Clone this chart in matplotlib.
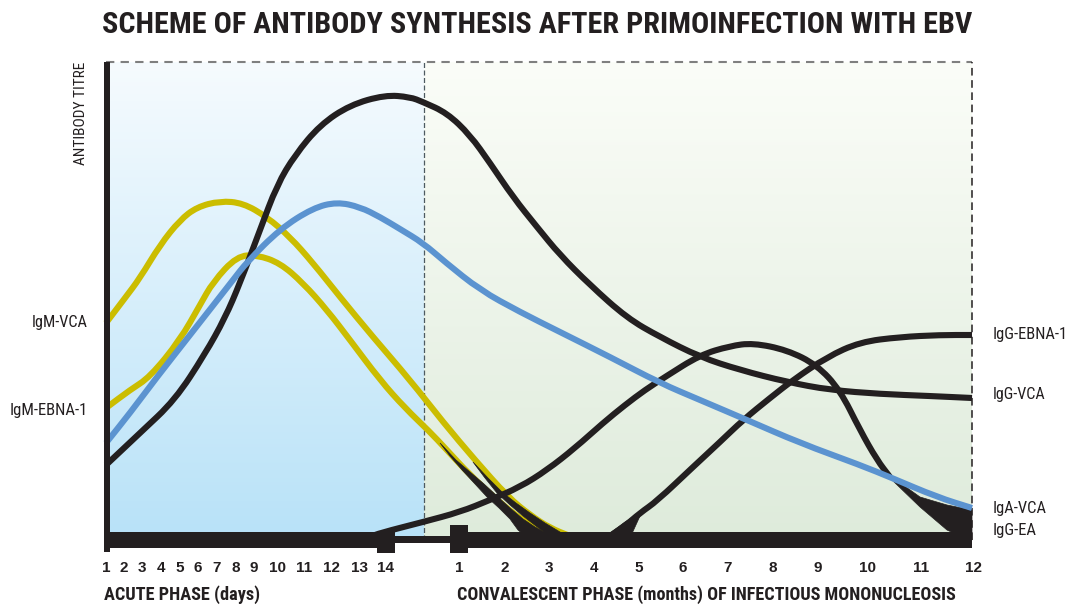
import numpy as np
import matplotlib
matplotlib.use('Agg')
import matplotlib.pyplot as plt
from matplotlib.colors import LinearSegmentedColormap
from matplotlib.path import Path
from matplotlib.patches import PathPatch

# Schematic time axis: day 1 .. day 14 (acute), month 1 .. month 12 (convalescent)
day_labels = [str(d) for d in range(1, 15)]
month_labels = [str(m) for m in range(1, 13)]
day_pos = [106, 124, 142, 161, 180, 198, 217, 236, 254, 278, 304, 331, 359, 385]
month_pos = [459, 505, 549, 594, 639, 683, 728, 773, 818, 867, 921, 974]

# Antibody titres (arbitrary units)
igg_vca_x = [106, 140, 175, 205, 225, 240, 260, 277, 295, 320, 350, 385, 410, 423, 447, 470, 490, 513,
             537, 560, 590, 627, 660, 700, 740, 787, 830, 880, 930, 972]
igg_vca_y = [75, 107, 140, 186, 222, 257, 310, 355, 385, 415, 435, 445, 443, 438, 427, 405, 377, 343,
             313, 285, 255, 222, 203, 183, 170, 158, 150, 146, 144, 142]

iga_vca_x = [106, 130, 157, 190, 233, 247, 280, 313, 337, 360, 380, 400, 423, 445, 480, 520, 560, 610,
             660, 700, 747, 800, 860, 892, 937, 972]
iga_vca_y = [97, 127, 163, 205, 260, 278, 311, 332, 338, 333, 323, 311, 297, 278, 250, 228, 208, 183,
             157, 140, 120, 97, 75, 62, 43, 32]

igm_vca_x = [106, 125, 140, 160, 180, 197, 220, 243, 267, 290, 313, 340, 373, 410, 443, 475, 508, 530, 550, 570]
igm_vca_y = [217, 242, 262, 295, 320, 333, 339, 337, 323, 303, 277, 243, 203, 160, 118, 80, 43, 25, 12, 4]

igm_ebna_x = [106, 130, 150, 180, 200, 213, 237, 257, 280, 303, 327, 350, 380, 405, 430, 445, 470, 497, 523, 547]
igm_ebna_y = [132, 150, 163, 200, 235, 258, 284, 285, 277, 257, 230, 200, 160, 132, 108, 92, 65, 40, 19, 8]

igg_ea_x = [370, 380, 423, 460, 490, 520, 547, 575, 603, 625, 645, 665, 700, 730, 753, 787, 817, 840, 860, 877, 890]
igg_ea_y = [3, 7, 18, 28, 40, 53, 70, 92, 117, 135, 150, 163, 185, 194, 197, 190, 175, 150, 110, 80, 63]

igg_ebna_x = [610, 625, 640, 657, 693, 720, 743, 770, 793, 827, 860, 900, 940, 972]
igg_ebna_y = [4, 14, 27, 39, 73, 98, 120, 142, 160, 183, 198, 203, 205, 205]

# tapering black "tails" of the curves (outline points)
wedge_a_x = [440, 456, 470, 484, 497, 510, 523, 535, 548, 525, 518, 510, 499, 487, 475, 463, 450]
wedge_a_y = [97, 80, 68, 56, 44, 32, 21, 13, 6, 4, 10, 21, 32, 43, 56, 69, 84]
wedge_b_x = [473, 488, 502, 516, 530, 545, 560, 565, 548, 536, 523, 510, 497, 485]
wedge_b_y = [78, 62, 48, 37, 27, 17, 8, 5, 5, 14, 24, 35, 47, 62]
wedge_c_x = [603, 625, 648, 640, 630]
wedge_c_y = [2, 18, 33, 24, 2]
wedge_d_x = [885, 920, 947, 972, 972, 960, 947, 920, 892]
wedge_d_y = [68, 43, 35, 30, 0, 4, 10, 33, 60]

left_labels = ['IgM-VCA', 'IgM-EBNA-1']
left_label_y = [217, 130]
right_labels = ['IgG-EBNA-1', 'IgG-VCA', 'IgA-VCA', 'IgG-EA']
right_label_y = [205, 145, 32, 10]

BLACK = '#231f20'
YELLOW = '#cbbd00'
BLUE = '#5b93d0'
NARROW = ['Roboto Condensed', 'Liberation Sans Narrow', 'DejaVu Sans']
SANS = ['Liberation Sans', 'DejaVu Sans']
LW = 4.4

fig = plt.figure(figsize=(10.69, 6.05), dpi=100)
ax = fig.add_axes([0, 0, 1, 1])
ax.set_xlim(0, 1069)
ax.set_ylim(-65, 540)
ax.axis('off')


def smooth_line(xs, ys, color, z):
    # quadratic bezier through the midpoints, the read points act as control points
    pts = np.column_stack([xs, ys]).astype(float)
    verts = [pts[0], (pts[0] + pts[1]) / 2]
    codes = [Path.MOVETO, Path.LINETO]
    for i in range(1, len(pts) - 1):
        verts += [pts[i], (pts[i] + pts[i + 1]) / 2]
        codes += [Path.CURVE3, Path.CURVE3]
    verts.append(pts[-1])
    codes.append(Path.LINETO)
    ax.add_patch(PathPatch(Path(verts, codes), fill=False, ec=color, lw=LW,
                           capstyle='butt', joinstyle='round', zorder=z))


# background gradients
top_h = 478
blue_cmap = LinearSegmentedColormap.from_list('b', ['#b8e2f8', '#f6fbfe'])
green_cmap = LinearSegmentedColormap.from_list('g', ['#deebdb', '#fbfdf8'])
grad = np.linspace(0, 1, 256).reshape(-1, 1)
ax.imshow(grad, cmap=blue_cmap, extent=[106, 424, 0, top_h], origin='lower', aspect='auto', zorder=0)
ax.imshow(grad, cmap=green_cmap, extent=[424, 972, 0, top_h], origin='lower', aspect='auto', zorder=0)

# dashed frame
ax.plot([106, 972], [top_h, top_h], color='#7f7f7f', lw=1.5, ls=(0, (4, 3)), zorder=1)
ax.plot([424, 424], [0, top_h], color='#4d5a60', lw=0.9, ls=(0, (4, 2)), zorder=1)
ax.plot([972, 972], [0, top_h], color=BLACK, lw=1.1, ls=(0, (5, 3)), zorder=1)

# curves
smooth_line(igm_vca_x, igm_vca_y, YELLOW, 2)
smooth_line(igm_ebna_x, igm_ebna_y, YELLOW, 2)
for wx, wy in [(wedge_a_x, wedge_a_y), (wedge_b_x, wedge_b_y), (wedge_c_x, wedge_c_y), (wedge_d_x, wedge_d_y)]:
    ax.fill(wx, wy, color=BLACK, lw=0.5, ec=BLACK, zorder=3)
smooth_line(igg_ea_x, igg_ea_y, BLACK, 3)
smooth_line(igg_ebna_x, igg_ebna_y, BLACK, 3)
smooth_line(igg_vca_x, igg_vca_y, BLACK, 3)
smooth_line(iga_vca_x, iga_vca_y, BLUE, 4)

# time axis bar with the break between days and months
ax.fill_between([106, 395], -8, 8, color=BLACK, lw=0, zorder=5)
ax.fill_between([395, 450], -3, 4, color=BLACK, lw=0, zorder=5)
ax.fill_between([450, 972], -8, 8, color=BLACK, lw=0, zorder=5)
ax.fill_between([377, 395], -13, 8, color=BLACK, lw=0, zorder=5)
ax.fill_between([450, 468], -13, 15, color=BLACK, lw=0, zorder=5)
# titre axis
ax.fill_between([104, 110], -12, top_h, color=BLACK, lw=0, zorder=5)

for lab, x in zip(day_labels, day_pos):
    ax.text(x, -28, lab, ha='center', va='center', fontsize=11, fontweight='bold', family=SANS, color=BLACK)
for lab, x in zip(month_labels, month_pos):
    ax.text(x, -28, lab, ha='center', va='center', fontsize=11, fontweight='bold', family=SANS, color=BLACK)

fitted = []
left_w = [56, 78]
for lab, y, w in zip(left_labels, left_label_y, left_w):
    t = ax.text(88, y, lab, ha='right', va='center', fontsize=12, family=NARROW, stretch='condensed', color=BLACK)
    fitted.append((t, w, 'w'))
right_w = [75, 53, 54, 44]
for lab, y, w in zip(right_labels, right_label_y, right_w):
    t = ax.text(993, y, lab, ha='left', va='center', fontsize=12, family=NARROW, stretch='condensed', color=BLACK)
    fitted.append((t, w, 'w'))

ylab = ax.text(81, top_h, 'ANTIBODY TITRE', rotation=90, ha='center', va='top', fontsize=11, family=NARROW,
               stretch='condensed', color=BLACK)
fitted.append((ylab, 103, 'h'))

title = ax.text(537, 515, 'SCHEME OF ANTIBODY SYNTHESIS AFTER PRIMOINFECTION WITH EBV', ha='center', va='center',
                fontsize=22, fontweight='black', family=NARROW, stretch='condensed', color=BLACK)
acute = ax.text(104, -55, 'ACUTE PHASE (days)', ha='left', va='center', fontsize=12, fontweight='bold',
                family=NARROW, stretch='condensed', color=BLACK)
conv = ax.text(457, -55, 'CONVALESCENT PHASE (months) OF INFECTIOUS MONONUCLEOSIS', ha='left', va='center',
               fontsize=12, fontweight='bold', family=NARROW, stretch='condensed', color=BLACK)
fitted += [(title, 866, 'w'), (acute, 156, 'w'), (conv, 501, 'w')]

# fit texts to the extents they have in the scheme
fig.canvas.draw()
renderer = fig.canvas.get_renderer()
for t, size, how in fitted:
    bb = t.get_window_extent(renderer)
    cur = bb.width if how == 'w' else bb.height
    t.set_fontsize(t.get_fontsize() * size / cur)

fig.savefig('out.png', dpi=100)
